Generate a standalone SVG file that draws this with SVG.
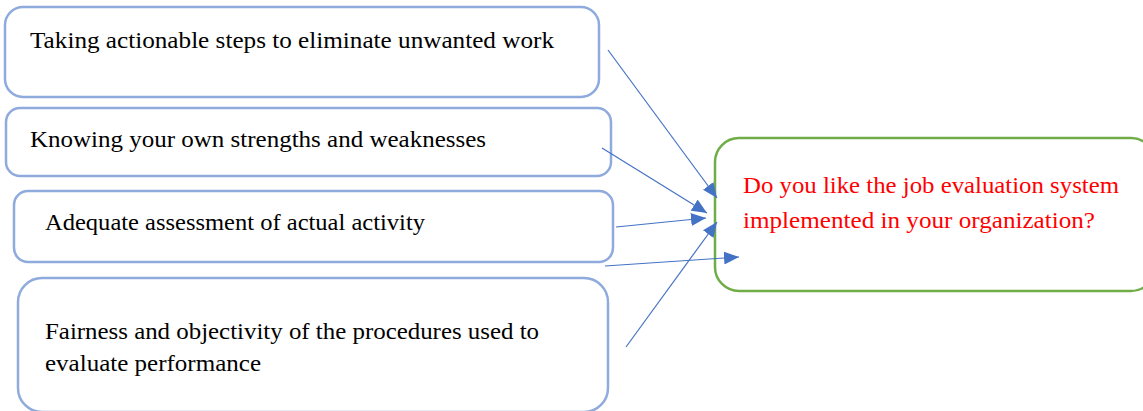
<svg xmlns="http://www.w3.org/2000/svg" width="1143" height="411" viewBox="0 0 1143 411">
<style>
.box{fill:#fff;stroke:#8FAADC;stroke-width:2.5}
.goal{fill:#fff;stroke:#70AD47;stroke-width:2.5}
.t{font-family:"Liberation Serif",serif;font-size:23px;fill:#000}
.r{fill:#FF0000}
.c{stroke:#4472C4;stroke-width:1.2;fill:none}
</style>
<defs>
<marker id="ah" markerWidth="15" markerHeight="13" refX="15" refY="6.5" orient="auto" markerUnits="userSpaceOnUse">
<path d="M0,0 L15,6.5 L0,13 Z" fill="#4472C4"/>
</marker>
</defs>
<g id="n1"><rect class="box" x="5" y="7" width="594" height="90" rx="18"/>
<text class="t" x="30" y="48" textLength="524" lengthAdjust="spacingAndGlyphs">Taking actionable steps to eliminate unwanted work</text></g>
<g id="n2"><rect class="box" x="6" y="108" width="605" height="68" rx="14"/>
<text class="t" x="30" y="147" textLength="456" lengthAdjust="spacingAndGlyphs">Knowing your own strengths and weaknesses</text></g>
<g id="n3"><rect class="box" x="14" y="191" width="599" height="71" rx="14"/>
<text class="t" x="45" y="230" textLength="380" lengthAdjust="spacingAndGlyphs">Adequate assessment of actual activity</text></g>
<g id="n4"><rect class="box" x="18" y="278" width="590" height="134" rx="24"/>
<text class="t" x="45" y="339" textLength="494" lengthAdjust="spacingAndGlyphs">Fairness and objectivity of the procedures used to</text>
<text class="t" x="45" y="371" textLength="216" lengthAdjust="spacingAndGlyphs">evaluate performance</text></g>
<g id="goal"><rect class="goal" x="715" y="138" width="440" height="153" rx="24"/>
<text class="t r" x="743" y="193" textLength="376" lengthAdjust="spacingAndGlyphs">Do you like the job evaluation system</text>
<text class="t r" x="743" y="228" textLength="352" lengthAdjust="spacingAndGlyphs">implemented in your organization?</text></g>
<g id="connectors">
<line class="c" x1="608" y1="50" x2="717" y2="198" marker-end="url(#ah)"/>
<line class="c" x1="602" y1="148" x2="707" y2="213" marker-end="url(#ah)"/>
<line class="c" x1="616" y1="227" x2="706" y2="218" marker-end="url(#ah)"/>
<line class="c" x1="605" y1="266" x2="739" y2="257" marker-end="url(#ah)"/>
<line class="c" x1="626" y1="347" x2="717" y2="222" marker-end="url(#ah)"/>
</g>
</svg>
